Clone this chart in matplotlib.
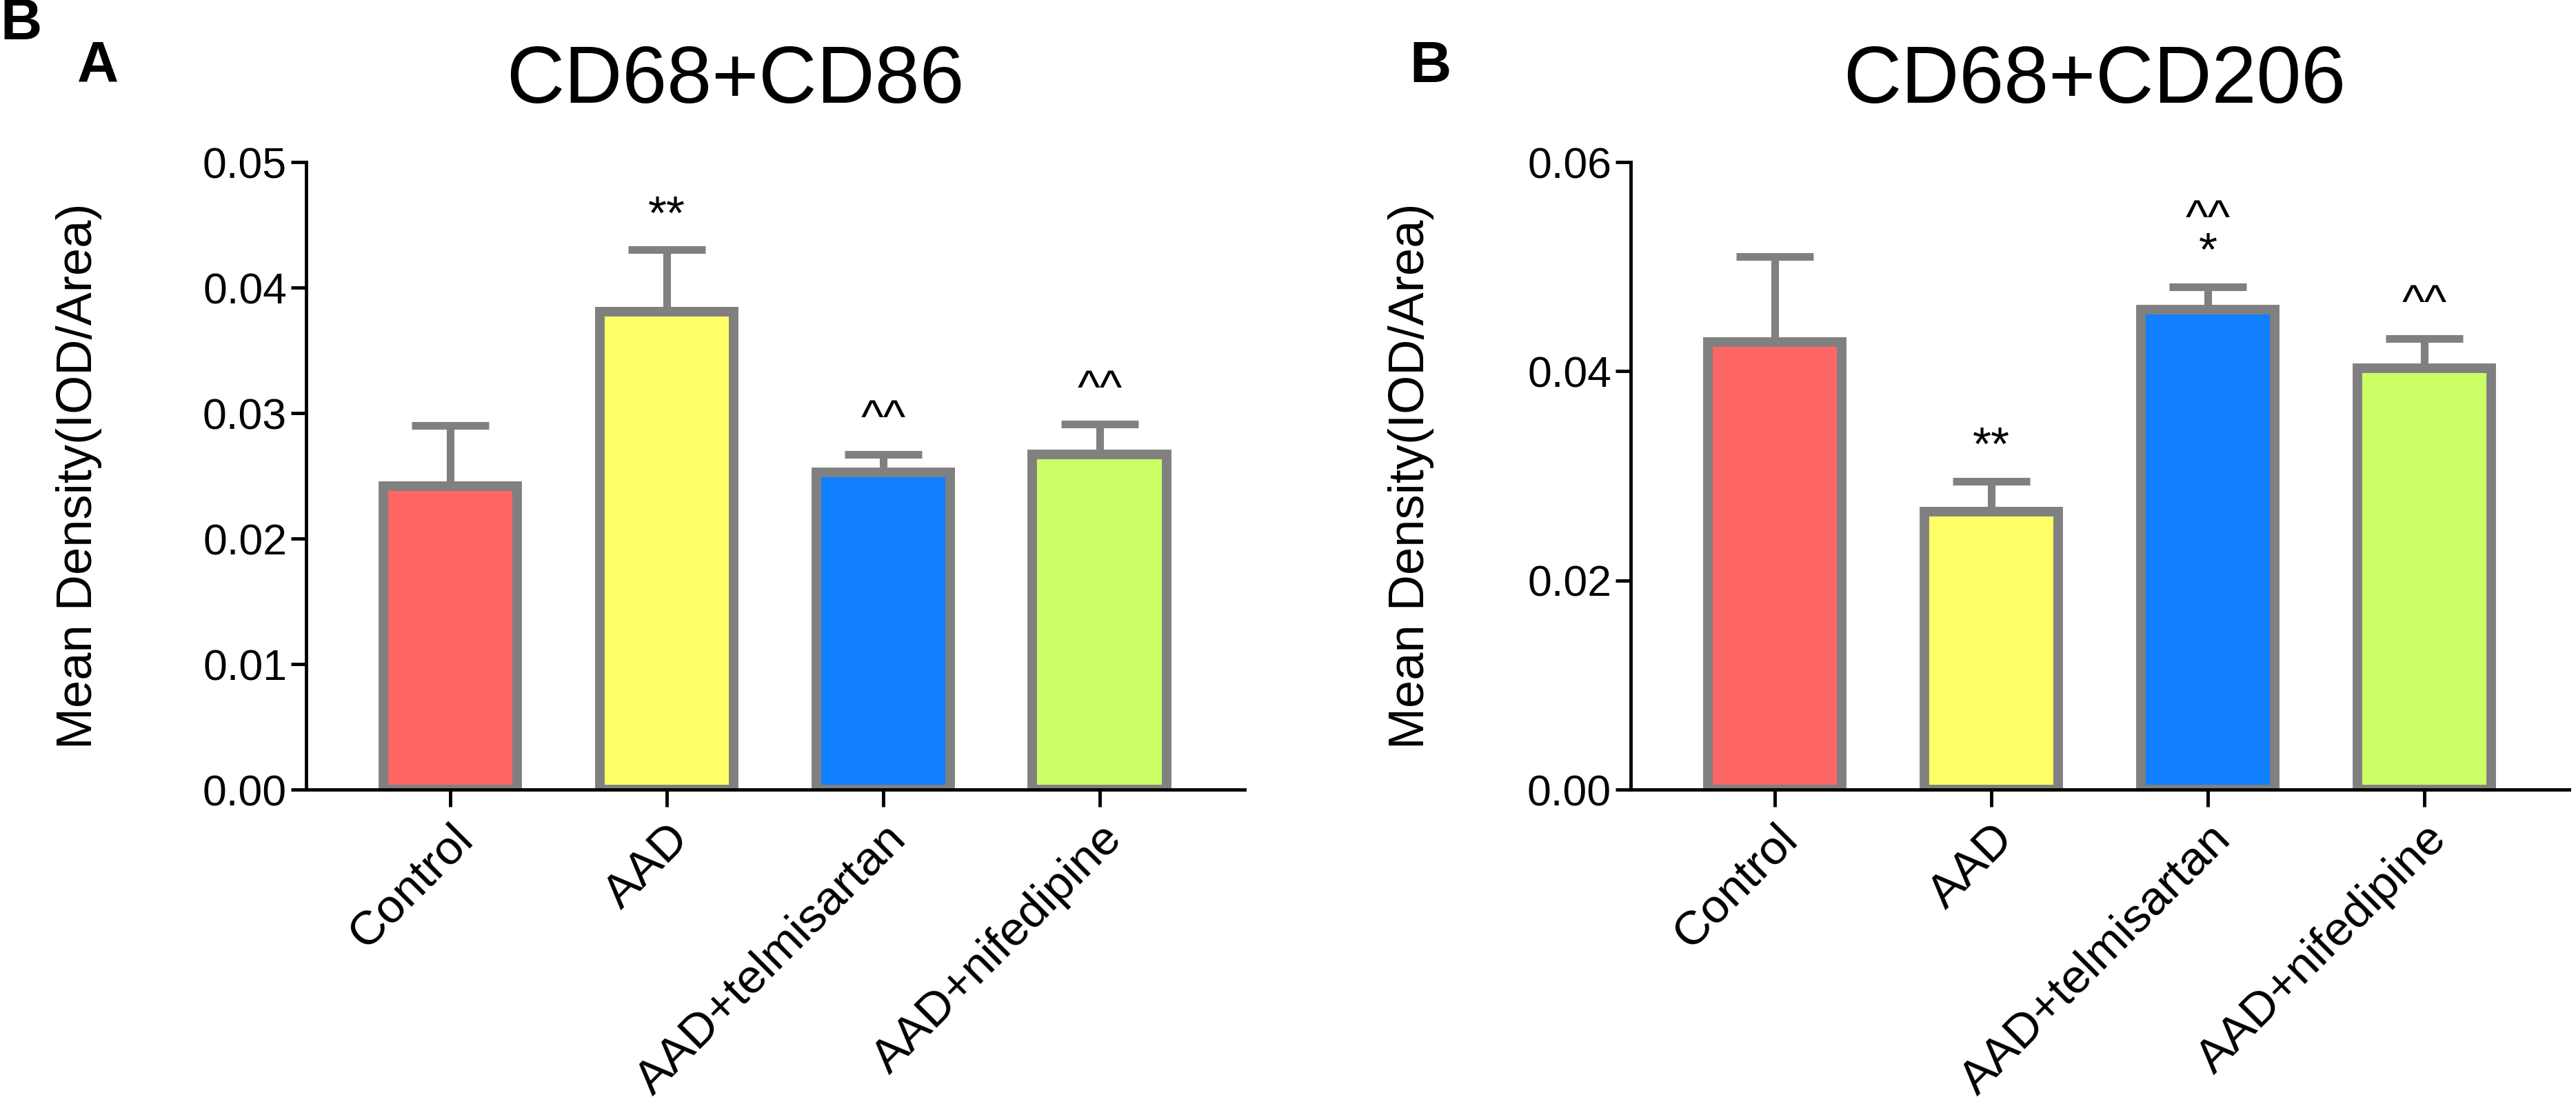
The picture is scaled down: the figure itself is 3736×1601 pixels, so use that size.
import numpy as np
import matplotlib
matplotlib.use("Agg")
import matplotlib.pyplot as plt

plt.rcParams['font.family'] = ['Liberation Sans', 'DejaVu Sans']

groups = ["Control", "AAD", "AAD+telmisartan", "AAD+nifedipine"]
colours = ["#FF6666", "#FFFF66", "#1080FF", "#CCFF66"]

# CD68+CD86 panel
cd86_mean = [0.0242, 0.0381, 0.0253, 0.0267]
cd86_err = [0.0048, 0.0049, 0.0014, 0.0024]
cd86_marks = ["", "**", "^^", "^^"]

# CD68+CD206 panel
cd206_mean = [0.0428, 0.0266, 0.0459, 0.0403]
cd206_err = [0.0082, 0.0029, 0.0022, 0.0028]
cd206_marks = ["", "**", "^^\n*", "^^"]


def draw_panel(ax, means, errs, marks, ymax, step):
    x = np.arange(len(groups))
    ax.bar(x, means, width=0.62, color=colours, edgecolor="#808080",
           linewidth=10, zorder=2)
    ax.errorbar(x, means, yerr=[np.zeros(len(errs)), errs], fmt="none",
                ecolor="#808080", elinewidth=8, capsize=40, capthick=8,
                zorder=1)
    for xi, m, e, s in zip(x, means, errs, marks):
        if s:
            ax.annotate(s, (xi, m + e), xytext=(0, 12), textcoords="offset points",
                        ha="center", va="bottom", fontsize=50, linespacing=0.65)
    ax.set_xlim(-0.666, 3.669)
    ax.set_ylim(0, ymax)
    ticks = np.arange(0, ymax + step / 2, step)
    ax.set_yticks(ticks)
    ax.set_yticklabels([f"{v:.2f}" for v in ticks])
    ax.set_xticks(x)
    ax.set_xticklabels(groups, rotation=45, ha="right", va="top",
                       rotation_mode="anchor")
    for sp in ["top", "right"]:
        ax.spines[sp].set_visible(False)
    for sp in ["left", "bottom"]:
        ax.spines[sp].set_linewidth(3.5)
    ax.tick_params(axis="y", length=16, width=3.5, labelsize=45, pad=4)
    ax.tick_params(axis="x", length=18, width=3.5, labelsize=50, pad=10)
    ax.set_ylabel("Mean Density(IOD/Area)", fontsize=52)


fig = plt.figure(figsize=(37.36, 16.01), dpi=100)
ax1 = fig.add_axes([0.1188, 0.2848, 0.3643, 0.5684])
ax2 = fig.add_axes([0.6330, 0.2848, 0.3643, 0.5684])

draw_panel(ax1, cd86_mean, cd86_err, cd86_marks, 0.05, 0.01)
draw_panel(ax2, cd206_mean, cd206_err, cd206_marks, 0.06, 0.02)
ax1.yaxis.set_label_coords(-0.217, 0.5)
ax2.yaxis.set_label_coords(-0.209, 0.5)

fig.text(1066 / 3736, 1 - 118 / 1601, "CD68+CD86", fontsize=84,
         ha="center", va="center")
fig.text(3038 / 3736, 1 - 118 / 1601, "CD68+CD206", fontsize=84,
         ha="center", va="center")

fig.text(0.0, 1 - 35 / 1601, "B", fontsize=60, fontweight="bold",
         ha="left", va="center")
fig.text(112 / 3736, 1 - 97 / 1601, "A", fontsize=60, fontweight="bold",
         ha="left", va="center")
fig.text(2044 / 3736, 1 - 97 / 1601, "B", fontsize=60, fontweight="bold",
         ha="left", va="center")

fig.savefig("out.png", dpi=100)
